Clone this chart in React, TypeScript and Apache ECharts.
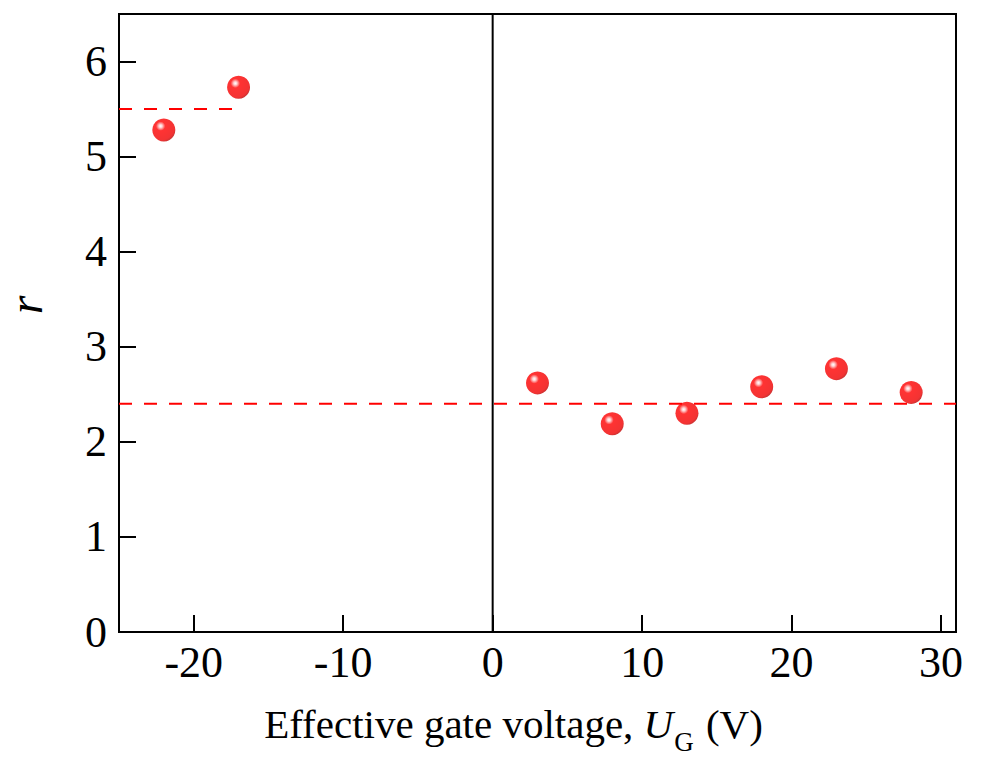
import React, { useEffect, useRef } from "react";
import * as echarts from "echarts";

const xValues = [-22, -17, 3, 8, 13, 18, 23, 28];
const rValues = [5.28, 5.73, 2.62, 2.19, 2.3, 2.58, 2.77, 2.52];
const dashUpper = [[-25, 5.5], [-17, 5.5]];
const dashLower = [[-25, 2.4], [31, 2.4]];
const zeroLine = [[0, 0], [0, 6.5]];
const xTicks = [-20, -10, 0, 10, 20, 30];
const yTicks = [0, 1, 2, 3, 4, 5, 6];

const FONT = "Liberation Serif";

export default function App() {
  const ref = useRef<HTMLDivElement>(null);
  useEffect(() => {
    if (!ref.current) return;
    const chart = echarts.init(ref.current, undefined, { renderer: "svg" });
    const sphere = new echarts.graphic.RadialGradient(0.36, 0.33, 0.72, [
      { offset: 0, color: "#ffffff" },
      { offset: 0.1, color: "#ffc4c4" },
      { offset: 0.28, color: "#ff0000" },
      { offset: 0.85, color: "#f00000" },
      { offset: 1, color: "#b80000" },
    ]);
    chart.setOption({
      animation: false,
      backgroundColor: "#ffffff",
      grid: {
        left: 119,
        right: 40,
        top: 14,
        bottom: 131,
        show: true,
        borderColor: "#000",
        borderWidth: 2,
        backgroundColor: "transparent",
        outerBoundsMode: "none",
        containLabel: false,
      },
      xAxis: {
        type: "value",
        min: -25,
        max: 31,
        splitLine: { show: false },
        axisLine: { show: true, onZero: false, lineStyle: { color: "#000", width: 2 } },
        axisTick: {
          show: true,
          inside: true,
          length: 17,
          customValues: xTicks,
          lineStyle: { color: "#000", width: 2 },
        },
        axisLabel: {
          customValues: xTicks,
          color: "#000",
          fontFamily: FONT,
          fontSize: 44,
          margin: 8,
        },
        name: "{n|Effective gate voltage, }{i|U}{s|G}{n| (V)}",
        nameLocation: "middle",
        nameGap: 71,
        nameTextStyle: {
          color: "#000",
          fontFamily: FONT,
          padding: [0, 48, 0, 0],
          rich: {
            n: { fontSize: 41, fontFamily: FONT, color: "#000", verticalAlign: "top", lineHeight: 46 },
            i: { fontSize: 41, fontFamily: FONT, fontStyle: "italic", color: "#000", verticalAlign: "top", lineHeight: 46 },
            s: { fontSize: 27, fontFamily: FONT, color: "#000", verticalAlign: "bottom", lineHeight: 52, padding: [0, 2, 0, 1] },
          },
        },
      },
      yAxis: {
        type: "value",
        min: 0,
        max: 6.5,
        splitLine: { show: false },
        axisLine: { show: true, onZero: false, lineStyle: { color: "#000", width: 2 } },
        axisTick: {
          show: true,
          inside: true,
          length: 17,
          customValues: yTicks,
          lineStyle: { color: "#000", width: 2 },
        },
        axisLabel: {
          customValues: yTicks,
          color: "#000",
          fontFamily: FONT,
          fontSize: 44,
          margin: 12,
        },
        name: "r",
        nameLocation: "middle",
        nameGap: 70,
        nameTextStyle: {
          color: "#000",
          fontFamily: FONT,
          fontSize: 48,
          fontStyle: "italic",
          padding: [0, 0, 0, 36],
        },
      },
      series: [
        {
          type: "line",
          data: zeroLine,
          symbol: "none",
          lineStyle: { color: "#000", width: 2 },
          z: 1,
        },
        {
          type: "line",
          data: dashUpper,
          symbol: "none",
          lineStyle: { color: "#ff0000", width: 2, type: [13, 12] },
          z: 2,
        },
        {
          type: "line",
          data: dashLower,
          symbol: "none",
          lineStyle: { color: "#ff0000", width: 2, type: [13, 12] },
          z: 2,
        },
        {
          type: "scatter",
          data: xValues.map((x, i) => [x, rValues[i]]),
          symbol: "circle",
          symbolSize: 23,
          itemStyle: { color: sphere },
          z: 5,
        },
      ],
    });
    return () => chart.dispose();
  }, []);
  return <div ref={ref} style={{ width: 996, height: 763, margin: -8 }} />;
}
